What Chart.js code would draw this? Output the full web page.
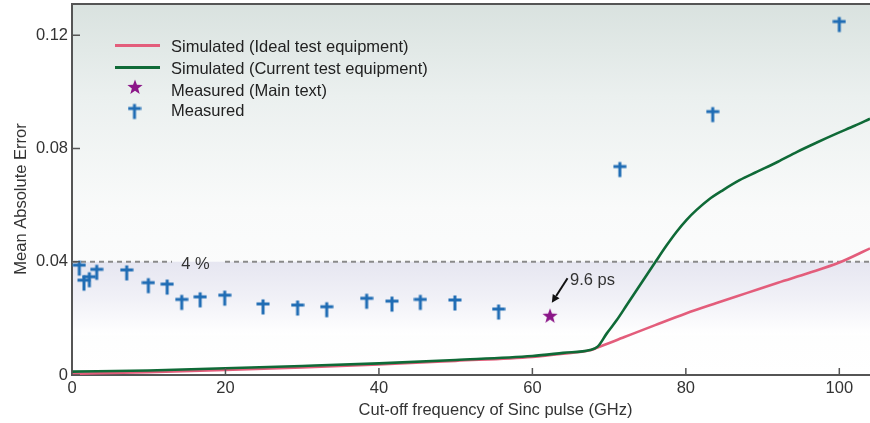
<!DOCTYPE html>
<html><head><meta charset="utf-8">
<script src="https://cdn.jsdelivr.net/npm/chart.js@4.4.1/dist/chart.umd.min.js"></script>
<style>html,body{margin:0;padding:0;background:#fff}#wrap{width:870px;height:423px;position:relative}</style>
</head><body><div id="wrap"><canvas id="c"></canvas></div>
<script>
// ---- data ----
const idealX = [0,10,20,30,40,50,60,64,67.5,68.5,72,76,80,84,88,92,96,100,104];
const idealY = [0.0004,0.0010,0.0018,0.0027,0.0037,0.0050,0.0064,0.0075,0.0087,0.0097,0.0134,0.0176,0.0217,0.0254,0.0290,0.0326,0.0360,0.0397,0.0447];
const currentX = [0,10,20,30,40,50,60,64,67.5,68.5,69.7,71,72.3,73.6,74.9,76.2,77.5,78.8,80.1,81.4,83,84.9,87,89.3,92,94.5,97,99.7,102,104];
const currentY = [0.0012,0.0016,0.0024,0.0032,0.0041,0.0053,0.0067,0.0078,0.0088,0.0100,0.0147,0.0194,0.0247,0.0300,0.0353,0.0406,0.0458,0.0506,0.0548,0.0583,0.0620,0.0654,0.0688,0.0718,0.0753,0.0788,0.0820,0.0853,0.0880,0.0905];
const mainX = [62.3];
const mainY = [0.0209];
const measX = [0.95,1.56,2.26,3.22,7.13,9.95,12.4,14.3,16.7,19.9,24.9,29.4,33.2,38.4,41.7,45.4,49.9,55.6,71.4,83.5,100.0];
const measY = [0.0388,0.0335,0.0347,0.0373,0.0371,0.0326,0.0321,0.0267,0.0276,0.0282,0.0251,0.0247,0.0241,0.0271,0.0261,0.0267,0.0265,0.0233,0.0736,0.0930,0.1248];
const seriesLabels = ['Simulated (Ideal test equipment)','Simulated (Current test equipment)','Measured (Main text)','Measured'];
const xTitle = 'Cut-off frequency of Sinc pulse (GHz)';
const yTitle = 'Mean Absolute Error';
const thresholdValue = 0.04;
const thresholdLabel = '4 %';
const annotationLabel = '9.6 ps';
const xTicksStep = 20;
const yTicksStep = 0.04;

// ---- styles ----
const FONT = '"Liberation Sans", Arial, Helvetica, sans-serif';
const FS = 16.5;
const PINK = '#e35d7b', GREEN = '#0f6a37', PURPLE = '#8b1688', BLUE = '#1f6cb4', TXT = '#333333', AX = '#555555';

function makeCross(){
  const c=document.createElement('canvas'); c.width=14; c.height=26;
  const g=c.getContext('2d'); g.strokeStyle=BLUE; g.lineWidth=3; g.lineCap='butt';
  g.beginPath(); g.moveTo(7,8.5); g.lineTo(7,23.5); g.moveTo(0.5,13); g.lineTo(13.5,13); g.stroke();
  return c;
}
function makeStar(){
  const c=document.createElement('canvas'); c.width=18; c.height=18;
  const g=c.getContext('2d'); g.fillStyle=PURPLE; g.beginPath();
  const cx=9, cy=9.5, R=8, r=3.3;
  for(let i=0;i<10;i++){const a=-Math.PI/2+i*Math.PI/5; const rr=i%2?r:R; const px=cx+rr*Math.cos(a), py=cy+rr*Math.sin(a); i?g.lineTo(px,py):g.moveTo(px,py);}
  g.closePath(); g.fill(); return c;
}
const crossImg = makeCross(), starImg = makeStar();
const pts = (xs,ys)=>xs.map((v,i)=>({x:v,y:ys[i]}));

const decor = {
  id:'decor',
  beforeDraw(chart){
    const {ctx, chartArea:a, scales:{y}} = chart;
    ctx.save();
    const g = ctx.createLinearGradient(0,a.top,0,a.bottom);
    g.addColorStop(0,'#d9e2df'); g.addColorStop(0.25,'#ebf0ef'); g.addColorStop(0.55,'#f9fafa'); g.addColorStop(1,'#ffffff');
    ctx.fillStyle=g; ctx.fillRect(a.left,a.top,a.right-a.left,a.bottom-a.top);
    const y4=y.getPixelForValue(thresholdValue), yb=y.getPixelForValue(0.014);
    const g2=ctx.createLinearGradient(0,y4,0,yb);
    g2.addColorStop(0,'#e6e6f1'); g2.addColorStop(0.5,'#f1f1f7'); g2.addColorStop(1,'#ffffff');
    ctx.fillStyle=g2; ctx.fillRect(a.left,y4,a.right-a.left,yb-y4);
    ctx.restore();
  },
  beforeDatasetsDraw(chart){
    const {ctx, chartArea:a, scales:{x,y}} = chart;
    const y4=y.getPixelForValue(thresholdValue);
    ctx.save();
    ctx.strokeStyle='#8a8a8a'; ctx.lineWidth=2; ctx.setLineDash([5,4]);
    ctx.beginPath(); ctx.moveTo(a.left,y4); ctx.lineTo(172,y4); ctx.moveTo(225,y4); ctx.lineTo(a.right,y4); ctx.stroke();
    ctx.setLineDash([]);
    ctx.fillStyle=TXT; ctx.font=FS+'px '+FONT; ctx.textAlign='center'; ctx.textBaseline='middle';
    ctx.fillText(thresholdLabel,195.5,y4+3);
    ctx.restore();
  },
  afterDraw(chart){
    const {ctx, chartArea:a, scales:{x,y}} = chart;
    ctx.save();
    // top frame
    ctx.strokeStyle=AX; ctx.lineWidth=2;
    ctx.beginPath(); ctx.moveTo(a.left-1,a.top); ctx.lineTo(a.right,a.top); ctx.stroke();
    // inward ticks
    ctx.lineWidth=1.5;
    ctx.beginPath();
    x.ticks.forEach(t=>{const px=x.getPixelForValue(t.value); ctx.moveTo(px,a.bottom); ctx.lineTo(px,a.bottom-7);});
    y.ticks.forEach(t=>{const py=y.getPixelForValue(t.value); ctx.moveTo(a.left,py); ctx.lineTo(a.left+8,py);});
    ctx.stroke();
    // annotation arrow
    const sx=x.getPixelForValue(mainX[0]), sy=y.getPixelForValue(mainY[0]);
    const tx=sx+1.8, ty=sy-13, fx=sx+17.5, fy=sy-37.5;
    ctx.strokeStyle='#111'; ctx.fillStyle='#111'; ctx.lineWidth=2;
    const ang=Math.atan2(ty-fy,tx-fx);
    const hl=8, hw=4;
    const bx=tx-hl*Math.cos(ang), by=ty-hl*Math.sin(ang);
    ctx.beginPath(); ctx.moveTo(fx,fy); ctx.lineTo(bx,by); ctx.stroke();
    ctx.beginPath(); ctx.moveTo(tx,ty);
    ctx.lineTo(bx+hw*Math.sin(ang),by-hw*Math.cos(ang));
    ctx.lineTo(bx-hw*Math.sin(ang),by+hw*Math.cos(ang)); ctx.closePath(); ctx.fill();
    ctx.fillStyle=TXT; ctx.font=FS+'px '+FONT; ctx.textAlign='left'; ctx.textBaseline='middle';
    ctx.fillText(annotationLabel,sx+20,sy-35);
    // legend
    const ds=chart.data.datasets;
    ctx.lineWidth=3;
    ctx.strokeStyle=ds[0].borderColor; ctx.beginPath(); ctx.moveTo(115,45.5); ctx.lineTo(160,45.5); ctx.stroke();
    ctx.strokeStyle=ds[1].borderColor; ctx.beginPath(); ctx.moveTo(115,67.5); ctx.lineTo(160,67.5); ctx.stroke();
    ctx.drawImage(starImg,135-9,87.5-9.5);
    ctx.drawImage(crossImg,134.5-7,108.5-13);
    ctx.fillStyle='#222'; ctx.textAlign='left'; ctx.textBaseline='middle';
    const rowsY=[47.5,69.5,91,111];
    ds.forEach((d,i)=>ctx.fillText(d.label,171,rowsY[i]));
    // axis titles
    ctx.fillStyle=TXT; ctx.textAlign='center';
    ctx.fillText(xTitle,495.5,410);
    ctx.translate(21.5,199); ctx.rotate(-Math.PI/2); ctx.fillText(yTitle,0,0);
    ctx.restore();
  }
};

function zeroPad(s){ s.paddingTop=0; s.paddingBottom=0; s.paddingLeft=0; s.paddingRight=0; }

new Chart(document.getElementById('c'), {
  type:'line',
  data:{datasets:[
    {label:seriesLabels[0], data:pts(idealX,idealY), borderColor:PINK, borderWidth:2.6, pointRadius:0, cubicInterpolationMode:'monotone', fill:false, order:4},
    {label:seriesLabels[1], data:pts(currentX,currentY), borderColor:GREEN, borderWidth:2.6, pointRadius:0, cubicInterpolationMode:'monotone', fill:false, order:3},
    {label:seriesLabels[2], data:pts(mainX,mainY), showLine:false, pointStyle:starImg, pointRadius:8, borderColor:PURPLE, backgroundColor:PURPLE, order:2},
    {label:seriesLabels[3], data:pts(measX,measY), showLine:false, pointStyle:crossImg, pointRadius:8, borderColor:BLUE, backgroundColor:BLUE, order:1}
  ]},
  options:{
    responsive:true, maintainAspectRatio:false, animation:false, devicePixelRatio:1,
    layout:{autoPadding:false, padding:{top:4,right:0,left:0,bottom:0}},
    plugins:{legend:{display:false}, tooltip:{enabled:false}},
    scales:{
      x:{type:'linear', min:0, max:104,
        ticks:{stepSize:xTicksStep, includeBounds:false, color:TXT, font:{family:FONT,size:FS}, padding:4, maxRotation:0},
        grid:{display:true, drawOnChartArea:false, drawTicks:false},
        border:{display:true, color:AX, width:2},
        afterFit:s=>{s.height=48; zeroPad(s);}},
      y:{type:'linear', min:0, max:0.131,
        ticks:{stepSize:yTicksStep, includeBounds:false, color:TXT, font:{family:FONT,size:FS}, padding:4,
          callback:v=>Math.abs(v)<1e-9?'0':v.toFixed(2)},
        grid:{display:true, drawOnChartArea:false, drawTicks:false},
        border:{display:true, color:AX, width:2},
        afterFit:s=>{s.width=72; zeroPad(s);}}
    }
  },
  plugins:[decor]
});
</script>
</body></html>
